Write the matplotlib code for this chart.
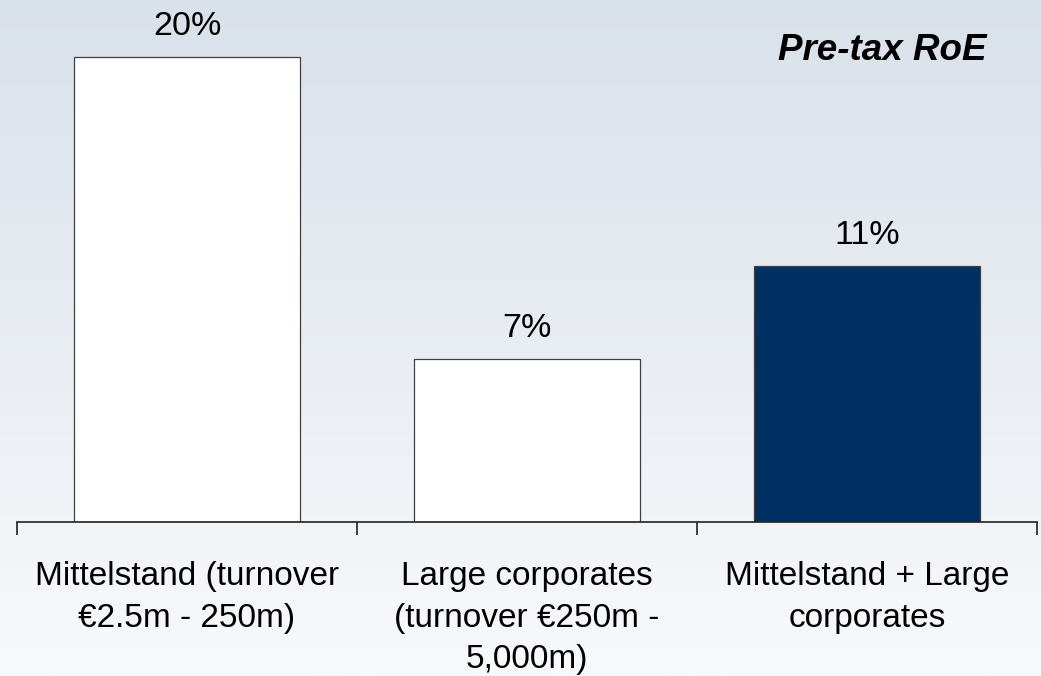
import numpy as np
import matplotlib.pyplot as plt
from matplotlib.colors import LinearSegmentedColormap

# pre-tax return on equity by client segment
categories = ["Mittelstand (turnover\n€2.5m - 250m)",
              "Large corporates\n(turnover €250m -\n5,000m)",
              "Mittelstand + Large\ncorporates"]
roe = [20, 7, 11]
bar_colors = ["#ffffff", "#ffffff", "#003063"]

plt.rcParams['font.family'] = ['Liberation Sans', 'DejaVu Sans']

W, H = 1041, 676
fig = plt.figure(figsize=(W / 100, H / 100), dpi=100)

# soft vertical gradient behind everything
bg = fig.add_axes([0, 0, 1, 1], zorder=0)
grad = np.linspace(0, 1, 256).reshape(-1, 1)
cmap = LinearSegmentedColormap.from_list("bg", ["#d9e1ea", "#f8f9fb"])
bg.imshow(grad, aspect="auto", cmap=cmap, extent=[0, 1, 0, 1], origin="upper")
bg.axis("off")

ymax = 22
px_per_unit = 23.25
base_px = 522
top_px = base_px - ymax * px_per_unit
ax = fig.add_axes([17 / W, 1 - base_px / H, (1037 - 17) / W, (base_px - top_px) / H], zorder=1)
ax.patch.set_alpha(0)

x = np.arange(len(roe))
ax.bar(x, roe, width=0.665, color=bar_colors, edgecolor="#404040", linewidth=0.9, zorder=2)

for xi, v in zip(x, roe):
    ax.annotate(f"{v}%", (xi, v), xytext=(0, 16), textcoords="offset points",
                ha="center", va="baseline", fontsize=24.5, color="black")

ax.set_xlim(-0.5, 2.5)
ax.set_ylim(0, ymax)
for s in ["top", "right", "left"]:
    ax.spines[s].set_visible(False)
ax.spines["bottom"].set_color("#222222")
ax.spines["bottom"].set_linewidth(1.2)
ax.set_yticks([])

ax.set_xticks(x)
ax.set_xticklabels(categories, fontsize=24, linespacing=1.45)
ax.tick_params(axis="x", which="major", length=0, pad=28)
ax.set_xticks([-0.5, 0.5, 1.5, 2.5], minor=True)
ax.tick_params(axis="x", which="minor", length=9, width=1.2, color="#222222", direction="out")

fig.text(986 / W, 1 - 60 / H, "Pre-tax RoE", ha="right", va="baseline",
         fontsize=26.5, fontweight="bold", fontstyle="italic", color="black")

fig.savefig("out.png", dpi=100)
